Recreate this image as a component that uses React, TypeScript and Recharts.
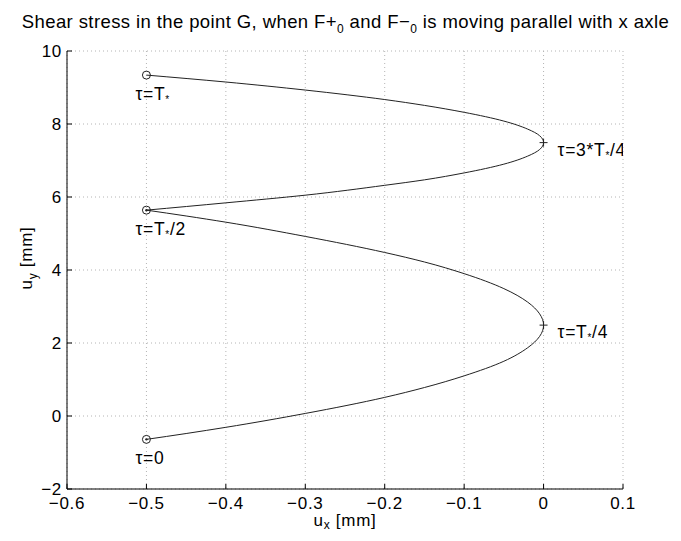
import React from 'react';
import { ScatterChart, Scatter, XAxis, YAxis, CartesianGrid } from 'recharts';

// Trajectory of point G (ux, uy in mm).
// First arc: tau = 0 -> T*/2, second arc: tau = T*/2 -> T*.
const arcFirst = [
  { ux: -0.5, uy: -0.64 },
  { ux: -0.45, uy: -0.48 },
  { ux: -0.4, uy: -0.31 },
  { ux: -0.3, uy: 0.07 },
  { ux: -0.2, uy: 0.51 },
  { ux: -0.15, uy: 0.78 },
  { ux: -0.1, uy: 1.1 },
  { ux: -0.05, uy: 1.5 },
  { ux: -0.02, uy: 1.87 },
  { ux: -0.005, uy: 2.18 },
  { ux: 0, uy: 2.49 },
  { ux: -0.005, uy: 2.8 },
  { ux: -0.02, uy: 3.12 },
  { ux: -0.05, uy: 3.49 },
  { ux: -0.1, uy: 3.9 },
  { ux: -0.15, uy: 4.22 },
  { ux: -0.2, uy: 4.48 },
  { ux: -0.3, uy: 4.92 },
  { ux: -0.4, uy: 5.31 },
  { ux: -0.45, uy: 5.48 },
  { ux: -0.5, uy: 5.64 },
];

const arcSecond = [
  { ux: -0.5, uy: 5.64 },
  { ux: -0.4, uy: 5.84 },
  { ux: -0.3, uy: 6.05 },
  { ux: -0.2, uy: 6.32 },
  { ux: -0.15, uy: 6.47 },
  { ux: -0.1, uy: 6.66 },
  { ux: -0.05, uy: 6.9 },
  { ux: -0.02, uy: 7.12 },
  { ux: -0.005, uy: 7.3 },
  { ux: 0, uy: 7.49 },
  { ux: -0.005, uy: 7.68 },
  { ux: -0.02, uy: 7.86 },
  { ux: -0.05, uy: 8.08 },
  { ux: -0.1, uy: 8.32 },
  { ux: -0.15, uy: 8.51 },
  { ux: -0.2, uy: 8.67 },
  { ux: -0.3, uy: 8.93 },
  { ux: -0.4, uy: 9.15 },
  { ux: -0.5, uy: 9.34 },
];

// Marked instants along the path.
const markers = [
  { ux: -0.5, uy: -0.64, mark: 'o', dot: true, label: '0' },
  { ux: 0, uy: 2.49, mark: '+', dot: false, label: 'T/4' },
  { ux: -0.5, uy: 5.64, mark: 'o', dot: true, label: 'T/2' },
  { ux: 0, uy: 7.49, mark: '+', dot: false, label: '3T/4' },
  { ux: -0.5, uy: 9.34, mark: 'o', dot: false, label: 'T' },
];

const xTicks = [-0.6, -0.5, -0.4, -0.3, -0.2, -0.1, 0, 0.1];
const yTicks = [-2, 0, 2, 4, 6, 8, 10];

const FONT = '"Liberation Sans", Arial, Helvetica, sans-serif';
const INK = '#000';
const FS = 17;
const LS = 0.7;

const fmt = (v: number) => (v < 0 ? '\u2212' + String(Math.abs(v)) : String(v));

const Star = () => (
  <tspan fontSize={10} dy={3}>
    *
  </tspan>
);

function tauText(kind: string, x: number, y: number) {
  const common = { x, y, fontFamily: FONT, fontSize: 17.5, fill: INK, letterSpacing: LS } as const;
  if (kind === '0') return <text {...common}>τ=0</text>;
  if (kind === 'T')
    return (
      <text {...common}>
        τ=T<Star />
      </text>
    );
  if (kind === 'T/2')
    return (
      <text {...common}>
        τ=T<Star />
        <tspan dy={-3}>/2</tspan>
      </text>
    );
  if (kind === 'T/4')
    return (
      <text {...common}>
        τ=T<Star />
        <tspan dy={-3}>/4</tspan>
      </text>
    );
  return (
    <text {...common}>
      τ=3*T<Star />
      <tspan dy={-3}>/4</tspan>
    </text>
  );
}

const MarkerShape = (props: any) => {
  const { cx, cy, payload } = props;
  if (cx == null || cy == null) return <g />;
  const isPlus = payload.mark === '+';
  return (
    <g>
      {isPlus ? (
        <g stroke="#222" strokeWidth={1}>
          <line x1={cx - 4} y1={cy} x2={cx + 4} y2={cy} />
          <line x1={cx} y1={cy - 4} x2={cx} y2={cy + 4} />
        </g>
      ) : (
        <g>
          <circle cx={cx} cy={cy} r={4} fill="none" stroke="#222" strokeWidth={1} />
          {payload.dot && <circle cx={cx} cy={cy} r={1.2} fill="#222" />}
        </g>
      )}
      {isPlus ? tauText(payload.label, cx + 14, cy + 13) : tauText(payload.label, cx - 11, cy + 25)}
    </g>
  );
};

const NoShape = () => <g />;

const XLabel = (props: any) => {
  const vb = props.viewBox || {};
  const cx = vb.x + vb.width / 2;
  return (
    <text
      x={cx}
      y={vb.y + 37}
      textAnchor="middle"
      fontFamily={FONT}
      fontSize={FS}
      letterSpacing={LS}
      fill={INK}
    >
      u<tspan fontSize={12} dy={3}>x</tspan>
      <tspan dy={-3}> [mm]</tspan>
    </text>
  );
};

const YLabel = (props: any) => {
  const vb = props.viewBox || {};
  const cy = vb.y + vb.height / 2 - 12;
  const x = 24;
  return (
    <text
      x={x}
      y={cy}
      transform={`rotate(-90, ${x}, ${cy})`}
      textAnchor="middle"
      fontFamily={FONT}
      fontSize={FS}
      letterSpacing={LS}
      fill={INK}
    >
      u<tspan fontSize={12} dy={5}>y</tspan>
      <tspan dy={-5}> [mm]</tspan>
    </text>
  );
};

const tickStyle = { fontFamily: FONT, fontSize: FS, fill: INK, letterSpacing: LS };

export default function App() {
  return (
    <div style={{ position: 'relative', width: 665, height: 533, fontFamily: FONT }}>
      <div
        style={{
          position: 'absolute',
          left: 5,
          top: 3,
          width: 665,
          textAlign: 'center',
          fontSize: 18.5,
          letterSpacing: 0.4,
          color: INK,
          whiteSpace: 'nowrap',
        }}
      >
        Shear stress in the point G, when F+<sub style={{ fontSize: 12 }}>0</sub> and F−
        <sub style={{ fontSize: 12 }}>0</sub> is moving parallel with x axle
      </div>
      <ScatterChart width={665} height={533} margin={{ top: 43, right: 50, bottom: 0, left: 0 }}>
        <CartesianGrid stroke="#b4b4b4" strokeDasharray="1 3" />
        <XAxis
          type="number"
          dataKey="ux"
          domain={[-0.6, 0.1]}
          ticks={xTicks}
          allowDataOverflow
          height={52}
          tickSize={-5}
          tickMargin={13}
          tickFormatter={fmt}
          tick={tickStyle}
          stroke={INK}
          axisLine={{ stroke: INK }}
          tickLine={{ stroke: INK }}
          label={{ content: XLabel }}
        />
        <YAxis
          type="number"
          dataKey="uy"
          domain={[-2, 10]}
          ticks={yTicks}
          allowDataOverflow
          width={59}
          tickSize={-5}
          tickMargin={10}
          tickFormatter={fmt}
          tick={tickStyle}
          stroke={INK}
          axisLine={{ stroke: INK }}
          tickLine={{ stroke: INK }}
          label={{ content: YLabel }}
        />
        <XAxis
          xAxisId="top"
          orientation="top"
          type="number"
          domain={[-0.6, 0.1]}
          ticks={xTicks}
          allowDataOverflow
          height={0}
          tickSize={-5}
          tick={false}
          stroke={INK}
          axisLine={{ stroke: INK }}
          tickLine={{ stroke: INK }}
        />
        <YAxis
          yAxisId="right"
          orientation="right"
          type="number"
          domain={[-2, 10]}
          ticks={yTicks}
          allowDataOverflow
          width={0}
          tickSize={-5}
          tick={false}
          stroke={INK}
          axisLine={{ stroke: INK }}
          tickLine={{ stroke: INK }}
        />
        <Scatter
          data={arcFirst}
          line={{ stroke: '#222', strokeWidth: 1 }}
          lineJointType="monotoneY"
          shape={NoShape}
          isAnimationActive={false}
        />
        <Scatter
          data={arcSecond}
          line={{ stroke: '#222', strokeWidth: 1 }}
          lineJointType="monotoneY"
          shape={NoShape}
          isAnimationActive={false}
        />
        <Scatter data={markers} shape={MarkerShape} isAnimationActive={false} />
      </ScatterChart>
    </div>
  );
}
